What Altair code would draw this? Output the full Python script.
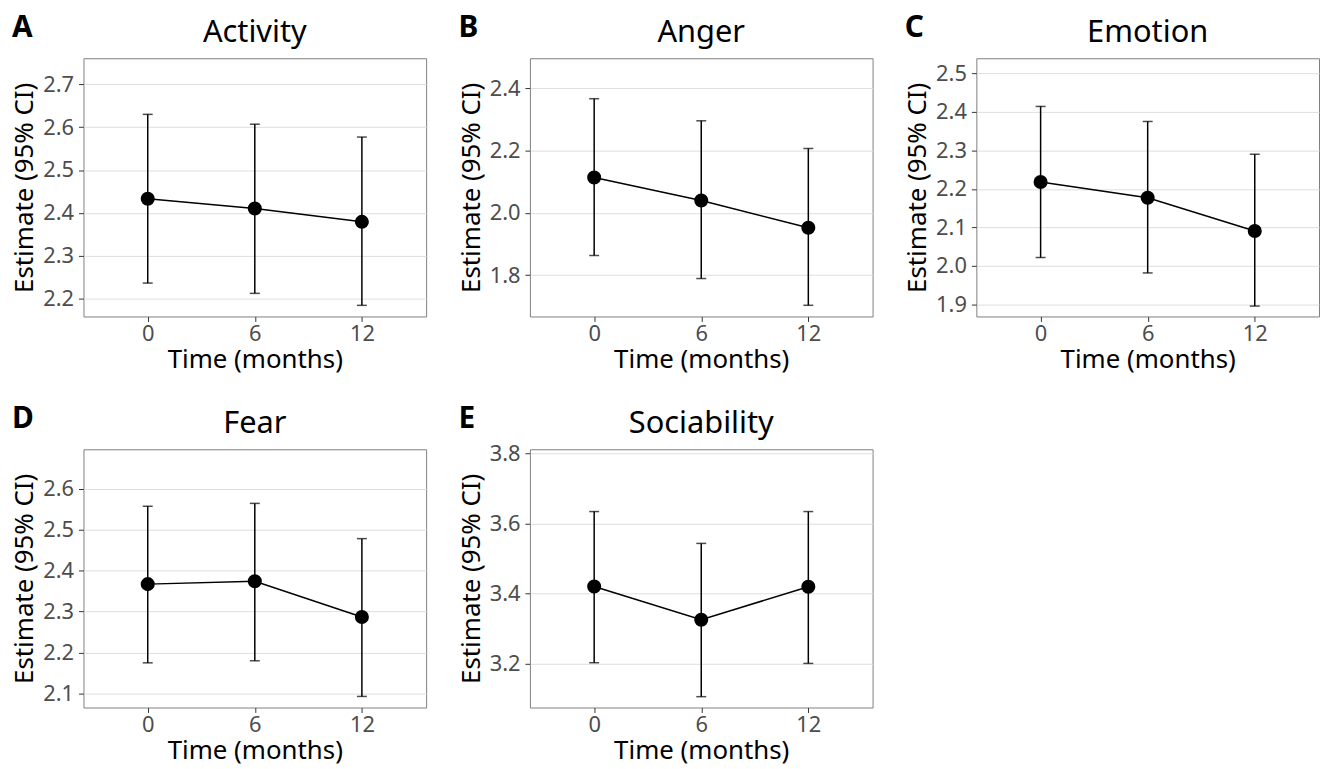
import altair as alt
import pandas as pd

letters = ["A", "B", "C", "D", "E"]
names = ["Activity", "Anger", "Emotion", "Fear", "Sociability"]
times = [0, 6, 12]

estimates = [
    [2.433, 2.410, 2.379],
    [2.114, 2.040, 1.952],
    [2.218, 2.177, 2.091],
    [2.367, 2.374, 2.287],
    [3.420, 3.325, 3.419],
]
lowers = [
    [2.236, 2.212, 2.184],
    [1.863, 1.789, 1.703],
    [2.022, 1.982, 1.896],
    [2.175, 2.180, 2.093],
    [3.202, 3.105, 3.200],
]
uppers = [
    [2.630, 2.607, 2.577],
    [2.367, 2.296, 2.207],
    [2.414, 2.375, 2.290],
    [2.557, 2.564, 2.478],
    [3.634, 3.543, 3.634],
]
y_domains = [
    [2.158, 2.761],
    [1.667, 2.497],
    [1.869, 2.539],
    [2.066, 2.696],
    [3.074, 3.812],
]
y_ticks = [
    [2.2, 2.3, 2.4, 2.5, 2.6, 2.7],
    [1.8, 2.0, 2.2, 2.4],
    [1.9, 2.0, 2.1, 2.2, 2.3, 2.4, 2.5],
    [2.1, 2.2, 2.3, 2.4, 2.5, 2.6],
    [3.2, 3.4, 3.6, 3.8],
]
x_domain = [-3.6, 15.6]
x_ticks = [0, 6, 12]

FONT = "Noto Sans"
W, H = 345, 260


def panel(i):
    df = pd.DataFrame({
        "time": times,
        "est": estimates[i],
        "lo": lowers[i],
        "hi": uppers[i],
    })
    base = alt.Chart(df)
    xenc = alt.X(
        "time:Q",
        scale=alt.Scale(domain=x_domain, nice=False, zero=False),
        axis=alt.Axis(
            values=x_ticks, title="Time (months)", grid=False,
            tickSize=5, labelPadding=2, minExtent=28, maxExtent=28,
            titlePadding=2.5,
        ),
    )
    yaxis = alt.Axis(
        values=y_ticks[i], format=".1f", title="Estimate (95% CI)",
        grid=True, tickSize=5, labelPadding=5, minExtent=38, maxExtent=38,
        titlePadding=8,
    )
    yscale = alt.Scale(domain=y_domains[i], nice=False, zero=False)

    rule = base.mark_rule(color="black", strokeWidth=1.5).encode(
        x=xenc,
        y=alt.Y("lo:Q", scale=yscale, axis=yaxis),
        y2="hi:Q",
    )
    cap_lo = base.mark_tick(color="black", orient="horizontal", size=10,
                            thickness=1.5).encode(
        x=xenc, y=alt.Y("lo:Q", scale=yscale, axis=yaxis))
    cap_hi = base.mark_tick(color="black", orient="horizontal", size=10,
                            thickness=1.5).encode(
        x=xenc, y=alt.Y("hi:Q", scale=yscale, axis=yaxis))
    line = base.mark_line(color="black", strokeWidth=1.5).encode(
        x=xenc, y=alt.Y("est:Q", scale=yscale, axis=yaxis))
    pts = base.mark_circle(color="black", opacity=1, size=200).encode(
        x=xenc, y=alt.Y("est:Q", scale=yscale, axis=yaxis))

    tdf = pd.DataFrame({"letter": [letters[i]], "name": [names[i]]})
    letter = alt.Chart(tdf).mark_text(
        font=FONT, fontSize=30, fontWeight="bold", align="left",
        baseline="alphabetic", color="black",
    ).encode(text="letter:N", x=alt.value(-72), y=alt.value(-21))
    title = alt.Chart(tdf).mark_text(
        font=FONT, fontSize=31, align="center", baseline="alphabetic",
        color="black",
    ).encode(text="name:N", x=alt.value(W / 2), y=alt.value(-16))

    return alt.layer(rule, cap_lo, cap_hi, line, pts, letter, title).properties(
        width=W, height=H
    )


chart = alt.concat(
    *[panel(i) for i in range(5)],
    columns=3,
    spacing=alt.RowColnumber(row=133.7, column=104.5),
    bounds="flush",
).properties(
    padding={"left": 3, "top": 2, "right": 0, "bottom": 0}
).configure_view(
    stroke="#7F7F7F", strokeWidth=1
).configure_axis(
    labelFont=FONT, labelFontSize=22, labelColor="#4D4D4D",
    titleFont=FONT, titleFontSize=26, titleFontWeight="normal",
    titleColor="black", tickColor="#333333", tickWidth=1,
    domain=False, gridColor="#DEDEDE", gridWidth=1,
)

chart.save("out.html", embed_options={"renderer": "svg", "actions": False})
